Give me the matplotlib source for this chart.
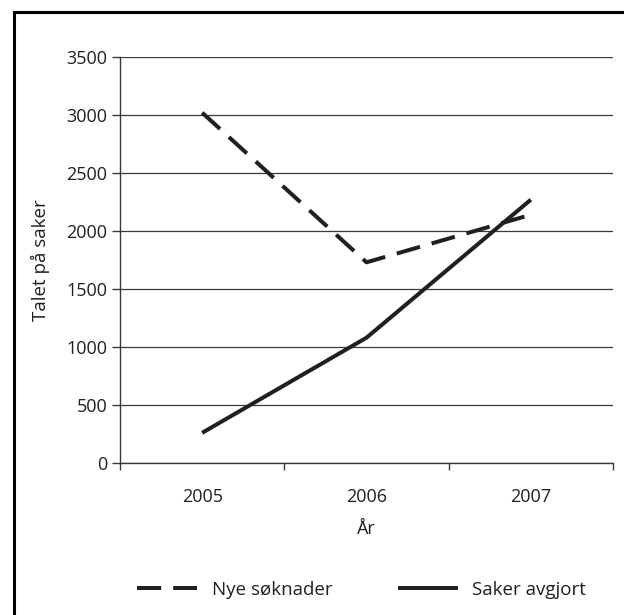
import numpy as np
import matplotlib.pyplot as plt
from matplotlib.patches import Rectangle

plt.rcParams['font.family'] = ['Open Sans', 'DejaVu Sans']

years = ['2005', '2006', '2007']
nye_soknader = [3020, 1730, 2140]
saker_avgjort = [260, 1080, 2270]

ink = '#231f20'
grid_c = '#3c3835'

fig = plt.figure(figsize=(6.24, 6.15), dpi=100)
ax = fig.add_axes([0.1923, 0.2472, 0.7901, 0.6601])

x = np.arange(len(years))
ax.plot(x, nye_soknader, color=ink, lw=2.9, dashes=(6, 3),
        solid_capstyle='butt', dash_capstyle='butt', label='Nye søknader')
ax.plot(x, saker_avgjort, color=ink, lw=2.9, solid_capstyle='butt',
        label='Saker avgjort')

ax.set_xlim(-0.5, 2.5)
ax.set_ylim(0, 3500)
ax.set_yticks(np.arange(0, 3501, 500))
ax.yaxis.grid(True, color=grid_c, lw=0.9)
ax.set_axisbelow(True)

ax.set_xticks(x)
ax.set_xticklabels(years)
ax.set_xticks([-0.5, 0.5, 1.5, 2.5], minor=True)
ax.tick_params(axis='x', which='major', length=0, pad=18, labelsize=13, colors=ink)
ax.tick_params(axis='x', which='minor', length=5, width=1, color=grid_c)
ax.tick_params(axis='y', length=6, width=1, color=grid_c, labelsize=13,
               labelcolor=ink, pad=3)

for s in ['top', 'right']:
    ax.spines[s].set_visible(False)
for s in ['left', 'bottom']:
    ax.spines[s].set_color(grid_c)
    ax.spines[s].set_linewidth(1)

ax.set_xlabel('År', fontsize=13, color=ink, labelpad=10)
ax.set_ylabel('Talet på saker', fontsize=13.5, color=ink, labelpad=12)

ax.legend(loc='center', bbox_to_anchor=(0.49, -0.313), ncol=2, frameon=False,
          fontsize=13.5, handlelength=3.2, handletextpad=0.75, columnspacing=3.5,
          labelcolor=ink)

fig.add_artist(Rectangle((14 / 624, -0.05), 1.2, (615 - 11.5) / 615 + 0.05,
                         transform=fig.transFigure, fill=False,
                         edgecolor='black', lw=2.2))

fig.savefig('out.png', dpi=100)
